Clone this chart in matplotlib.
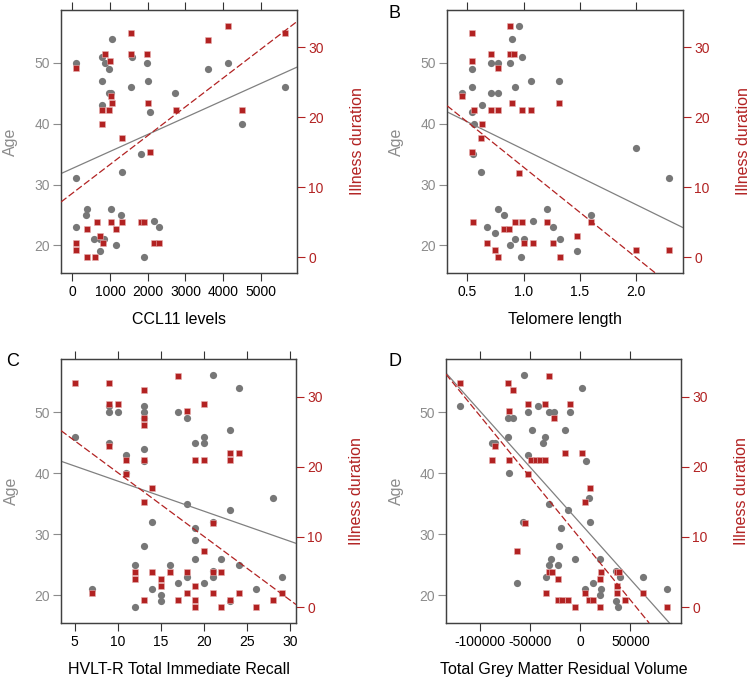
import matplotlib
matplotlib.use('Agg')
import matplotlib.pyplot as plt

plt.rcParams['font.family'] = ['Liberation Sans', 'DejaVu Sans']
plt.rcParams['axes.unicode_minus'] = False

# ---------------- Panel A: CCL11 levels ----------------
ccl11_age_x = [89, 98, 89, 393, 375, 580, 732, 723, 839, 777, 857, 982, 786, 964, 1018, 786, 1045,
               1018, 1304, 1152, 1313, 1571, 1554, 1812, 1893, 1991, 2000, 2054, 2179, 2304, 2732,
               3598, 4134, 4500, 5634]
ccl11_age = [50, 31, 23, 26, 25, 21, 21, 19, 21, 51, 50, 49, 47, 45, 45, 43, 54,
             26, 25, 20, 32, 51, 46, 35, 18, 50, 47, 42, 24, 23, 45,
             49, 50, 40, 46]
ccl11_dur_x = [89, 98, 98, 384, 402, 589, 661, 723, 813, 875, 991, 795, 973, 1018, 1045, 795, 1018,
               1152, 1313, 1313, 1563, 1554, 1812, 1902, 1991, 2000, 2063, 2179, 2304, 2741,
               3598, 4134, 4500, 5634]
ccl11_dur = [27, 2, 1, 4, 0, 0, 5, 3, 2, 29, 28, 21, 21, 23, 22, 19, 5,
             4, 5, 17, 32, 29, 5, 5, 29, 22, 15, 2, 2, 21,
             31, 33, 21, 32]

# ---------------- Panel B: Telomere length ----------------
telo_age_x = [0.447, 0.536, 0.536, 0.536, 0.556, 0.550, 0.628, 0.616, 0.675, 0.743, 0.770, 0.826,
              0.708, 0.773, 0.708, 0.773, 0.877, 0.894, 0.960, 0.980, 0.921, 0.874, 0.921, 1.001,
              0.977, 1.084, 1.060, 1.313, 1.206, 1.262, 1.324, 1.470, 1.597, 2.0, 2.288]
telo_age = [45, 49, 46, 42, 40, 35, 43, 32, 23, 22, 26, 25,
            50, 50, 45, 45, 50, 54, 56, 51, 46, 20, 21, 21,
            18, 24, 47, 47, 26, 23, 21, 19, 25, 36, 31]
telo_dur_x = [0.447, 0.536, 0.536, 0.556, 0.625, 0.616, 0.536, 0.547, 0.675, 0.743, 0.770, 0.826,
              0.871, 0.708, 0.773, 0.708, 0.773, 0.877, 0.877, 0.915, 0.894, 0.918, 0.980, 0.980,
              1.001, 0.960, 1.060, 1.084, 1.206, 1.262, 1.324, 1.313, 1.470, 1.597, 2.0, 2.288]
telo_dur = [23, 32, 28, 21, 19, 17, 15, 5, 2, 1, 0, 4,
            4, 29, 27, 21, 21, 33, 29, 29, 22, 5, 5, 21,
            2, 12, 21, 2, 5, 2, 0, 22, 3, 5, 1, 1]

# ---------------- Panel C: HVLT-R Total Immediate Recall ----------------
hvlt_age_x = [5, 7, 9, 9, 9, 10, 11, 11, 12, 12, 13, 13, 13, 13, 13, 13, 14, 14, 15, 15, 16, 17, 17,
              18, 18, 18, 19, 19, 19, 19, 20, 20, 20, 21, 21, 21, 21, 22, 23, 23, 23, 24, 24, 26,
              28, 29]
hvlt_age = [46, 21, 51, 50, 45, 50, 43, 40, 25, 18, 51, 50, 49, 44, 42, 28, 32, 21, 20, 19, 25, 50, 22,
            49, 35, 23, 45, 31, 29, 26, 46, 45, 22, 56, 32, 24, 23, 26, 47, 34, 19, 54, 25, 21,
            36, 23]
hvlt_dur_x = [5, 7, 9, 9, 10, 9, 11, 11, 12, 12, 13, 13, 13, 13, 13, 13, 14, 14, 15, 15, 16, 17, 17,
              18, 18, 18, 19, 19, 19, 19, 20, 20, 20, 21, 21, 21, 22, 22, 23, 23, 23, 24, 24, 26,
              28, 29]
hvlt_dur = [32, 2, 32, 29, 29, 23, 21, 19, 5, 4, 31, 27, 26, 21, 15, 1, 17, 5, 4, 3, 5, 33, 1,
            28, 5, 2, 21, 3, 1, 0, 29, 21, 8, 12, 5, 2, 5, 0, 22, 21, 1, 22, 2, 0,
            1, 2]

# ---------------- Panel D: Total Grey Matter Residual Volume ----------------
gm_age_x = [-119960, -88350, -85700, -72700, -72050, -67400, -71050, -57750, -63100, -56100, -52400,
            -52400, -48400, -42800, -37450, -35500, -31500, -26150, -31800, -29450, -31800, -34100,
            -22150, -21800, -19150, -15160, -12500, -9840, -4850, 2140, 8460, 10120, 5470, 19770,
            35930, 39200, 13120, 5140, 20440, 19440, 36100, 37430, 62470, 86500]
gm_age = [51, 45, 45, 46, 49, 49, 40, 32, 22, 56, 50,
          43, 47, 51, 45, 46, 50, 50, 35, 26, 25, 23,
          25, 28, 31, 47, 34, 50, 26, 54, 36, 32, 42, 26,
          24, 23, 22, 21, 21, 20, 19, 18, 23, 21]
gm_dur_x = [-119960, -72050, -67700, -31130, -52400, -35400, -9840, -71700, -26150, -85360, -88350,
            -71050, -15160, 2140, -49430, -44770, -40110, -35450, -52400, -55750, -63100, 10120,
            5140, -31800, -28800, -22150, -34100, -22150, -18800, -12500, -4850, 20440, 19770,
            36270, 36600, 39000, 36270, 5140, 8460, 13120, 19770, 44250, 62470, 86500]
gm_dur = [32, 32, 31, 33, 29, 29, 29, 28, 27, 23, 21,
          21, 22, 22, 21, 21, 21, 21, 19, 12, 8, 17,
          15, 5, 5, 4, 2, 1, 1, 1, 0, 5, 4,
          3, 5, 5, 2, 2, 1, 1, 0, 1, 2, 0]

# fitted regression lines (slope, intercept)
fit_age = {'A': (0.002796, 32.64), 'B': (-9.08, 44.84), 'C': (-0.4938, 43.64), 'D': (-1.8335e-4, 31.78)}
fit_dur = {'A': (0.004121, 9.14), 'B': (-12.92, 25.78), 'C': (-0.9093, 28.26), 'D': (-1.7448e-4, 9.75)}

x_labels = {'A': 'CCL11 levels', 'B': 'Telomere length', 'C': 'HVLT-R Total Immediate Recall',
            'D': 'Total Grey Matter Residual Volume'}
x_ticks = {'A': [0, 1000, 2000, 3000, 4000, 5000], 'B': [0.5, 1.0, 1.5, 2.0],
           'C': [5, 10, 15, 20, 25, 30], 'D': [-100000, -50000, 0, 50000]}
x_ticklabels = {'A': ['0', '1000', '2000', '3000', '4000', '5000'], 'B': ['0.5', '1.0', '1.5', '2.0'],
                'C': ['5', '10', '15', '20', '25', '30'], 'D': ['-100000', '-50000', '0', '50000']}
x_lims = {'A': (-300, 5960), 'B': (0.318, 2.415), 'C': (3.42, 30.66), 'D': (-134270, 100600)}
age_ticks = [20, 30, 40, 50]
dur_ticks = [0, 10, 20, 30]

GREY_PT = '#777777'
GREY_TXT = '#8c8c8c'
RED = '#b22222'
W, H = 751, 679

fig = plt.figure(figsize=(W / 100, H / 100), dpi=100)


def rect(l, r, t, b):
    return [l / W, 1 - b / H, (r - l) / W, (b - t) / H]


rects = {'A': rect(61, 297, 10, 273), 'B': rect(447, 683, 10, 273),
         'C': rect(61, 296, 359, 623), 'D': rect(446, 681, 359, 623)}
data = {'A': (ccl11_age_x, ccl11_age, ccl11_dur_x, ccl11_dur),
        'B': (telo_age_x, telo_age, telo_dur_x, telo_dur),
        'C': (hvlt_age_x, hvlt_age, hvlt_dur_x, hvlt_dur),
        'D': (gm_age_x, gm_age, gm_dur_x, gm_dur)}

for key in ['A', 'B', 'C', 'D']:
    xa, ya, xd, yd = data[key]
    ax = fig.add_axes(rects[key])
    ax2 = ax.twinx()
    ax.set_zorder(1)
    ax2.set_zorder(2)
    ax.patch.set_visible(True)
    ax2.patch.set_visible(False)

    ax.plot(xa, ya, 'o', color=GREY_PT, ms=5.2, mec='none', zorder=3)
    s, i = fit_age[key]
    ax.axline((0, i), slope=s, color='#808080', lw=0.9, zorder=4)
    ax2.plot(xd, yd, 's', color=RED, ms=5.0, mec='#e8b0b0', mew=0.4, zorder=3)
    s, i = fit_dur[key]
    ax2.axline((0, i), slope=s, color=RED, lw=0.9, ls=(0, (5.5, 2.2)), zorder=4)

    ax.set_xlim(*x_lims[key])
    ax.set_ylim(15.45, 58.7)
    ax2.set_ylim(-2.25, 35.35)
    ax.set_xticks(x_ticks[key])
    ax.set_xticklabels(x_ticklabels[key])
    ax.set_yticks(age_ticks)
    ax2.set_yticks(dur_ticks)

    ax.tick_params(axis='x', which='both', top=True, bottom=True, labeltop=False, direction='out',
                   length=6, width=0.8, colors='#333333', labelcolor='black', labelsize=10, pad=3)
    ax.tick_params(axis='y', direction='out', length=6, width=0.8, colors=GREY_TXT,
                   labelsize=10, pad=2)
    ax2.tick_params(axis='y', direction='out', length=6, width=0.8, colors=RED,
                    labelsize=10, pad=2)
    for a in (ax, ax2):
        for sp in a.spines.values():
            sp.set_color('#404040')
            sp.set_linewidth(0.9)

    ax.text(0.5, -0.148, x_labels[key], transform=ax.transAxes, ha='center', va='top',
            fontsize=11.5, color='black')
    ax.text(-0.212, 0.5, 'Age', transform=ax.transAxes, ha='center', va='center',
            rotation=90, fontsize=11.5, color=GREY_TXT)
    ax.text(1.258, 0.5, 'Illness duration', transform=ax.transAxes, ha='center', va='center',
            rotation=90, fontsize=11.5, color=RED)

fig.text(389 / W, 1 - 17.5 / H, 'B', fontsize=13, ha='left', va='baseline')
fig.text(6 / W, 1 - 366 / H, 'C', fontsize=13, ha='left', va='baseline')
fig.text(389 / W, 1 - 366 / H, 'D', fontsize=13, ha='left', va='baseline')

fig.savefig('out.png', dpi=100)
